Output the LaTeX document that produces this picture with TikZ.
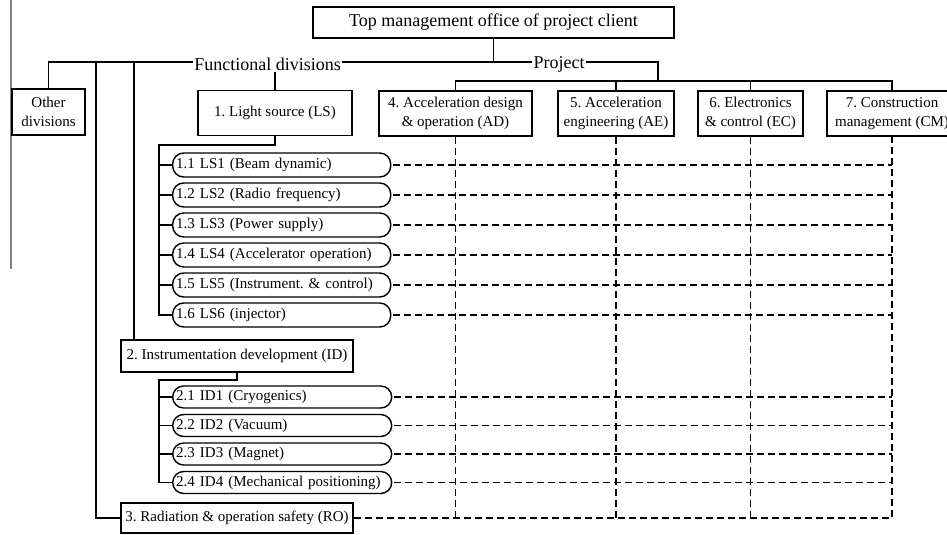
\documentclass[tikz,border=0pt]{standalone}
\usepackage{fontspec}
\setmainfont{Liberation Serif}
\frenchspacing
\usetikzlibrary{positioning, calc}
\tikzstyle{unit} = [rectangle, draw, line width=1.8pt, align=center, inner sep=2pt,
                    font=\fontsize{15}{19}\selectfont]
\tikzstyle{subunit} = [rectangle, rounded corners=11pt, draw, line width=1.4pt, anchor=west,
                       text width=211pt, inner xsep=3.5pt, inner ysep=0pt, minimum height=24pt,
                       align=left, font=\fontsize{15}{19}\selectfont]
\tikzstyle{branch} = [font=\fontsize{18}{22}\selectfont, inner sep=1pt, fill=white]
\tikzstyle{tree} = [line width=1.4pt]
\tikzstyle{link} = [line width=1.5pt, dash pattern=on 7pt off 4pt]

\begin{document}
\begin{tikzpicture}[x=1pt, y=-1pt]
\useasboundingbox (0,0) rectangle (947,535);

% page edge
\draw[gray, line width=1.2pt] (11,0) -- (11,269);

% Client
\node[unit, font=\fontsize{18}{22}\selectfont, minimum width=361pt, minimum height=31pt] (top) at (493.5,22.5)
    {Top management office of project client};

% Branch labels
\node[branch] (func) at (267.5,64) {Functional divisions};
\node[branch] (proj) at (559,64) {Project};
\coordinate (fd2) at (96,62);
\coordinate (fd3) at (134,62);
\coordinate (pbar) at (658,81);

% Functional divisions
\node[unit, minimum width=73pt, minimum height=46pt] (other) at (48.5,112) {Other\\divisions};
\node[unit, minimum width=154pt, minimum height=45pt] (ls) at (275,113) {1. Light source (LS)};
\node[unit, minimum width=232pt, minimum height=32pt] (id) at (237,356) {2. Instrumentation development (ID)};
\node[unit, minimum width=232pt, minimum height=30pt] (ro) at (237,518) {3. Radiation \& operation safety (RO)};

% Project divisions
\node[unit, minimum width=153pt, minimum height=45pt] (ad) at (455.5,113.5) {4. Acceleration design\\\& operation (AD)};
\node[unit, minimum width=116pt, minimum height=45pt] (ae) at (616,113.5) {5. Acceleration\\engineering (AE)};
\node[unit, minimum width=105pt, minimum height=45pt] (ec) at (750.5,113.5) {6. Electronics\\\& control (EC)};
\node[unit, minimum width=130pt, minimum height=45pt] (cm) at (892,113.5) {7. Construction\\management (CM)};

% Light source groups
\foreach \n/\y/\t in {11/165/{1.1 LS1 (Beam dynamic)}, 12/195/{1.2 LS2 (Radio frequency)},
                      13/225/{1.3 LS3 (Power supply)}, 14/255/{1.4 LS4 (Accelerator operation)},
                      15/285/{1.5 LS5 (Instrument. \& control)}, 16/315/{1.6 LS6 (injector)}}
    \node[subunit] (r\n) at (172,\y) {\t};

% Instrumentation groups
\foreach \n/\y/\t in {21/397/{2.1 ID1 (Cryogenics)}, 22/425.5/{2.2 ID2 (Vacuum)},
                      23/454/{2.3 ID3 (Magnet)}, 24/482.5/{2.4 ID4 (Mechanical positioning)}}
    \node[subunit, minimum height=22pt, text width=212pt] (r\n) at (172,\y) {\t};

\coordinate (lsbar) at (159,145);
\coordinate (idbar) at (159,380);

% Solid tree
\draw[tree] (top.south) -- (top.south |- fd2);
\draw[tree] (other.north) |- (func.west |- fd2);
\draw[tree] (func.east |- fd2) -- (proj.west |- fd2);
\draw[tree] (proj.east |- fd2) -| (pbar);
\draw[tree] (ad.north) |- (pbar) -| (cm.north);
\draw[tree] (ae.north) -- (ae.north |- pbar);
\draw[tree] (ec.north) -- (ec.north |- pbar);
\draw[tree] (ls.north) -- (func.south -| ls.north);
\draw[tree] (fd2) |- (ro.west);
\draw[tree] (fd3) -- (fd3 |- id.north);
\draw[tree] (ls.south) |- (lsbar) |- (r16.west);
\draw[tree] (id.south) |- (idbar) |- (r24.west);
\foreach \r in {r11,r12,r13,r14,r15,r21,r22,r23}
    \draw[tree] (\r.west -| lsbar) -- (\r.west);

% Dashed matrix
\foreach \p in {ad,ae,ec}
    \draw[link] (\p.south) -- (\p.south |- ro.east);
\draw[link] (ro.east) -| (cm.south);
\foreach \r in {r11,r12,r13,r14,r15,r16,r21,r22,r23,r24}
    \draw[link] ([xshift=2pt]\r.east) -- (\r.east -| cm.south);

\end{tikzpicture}
\end{document}
